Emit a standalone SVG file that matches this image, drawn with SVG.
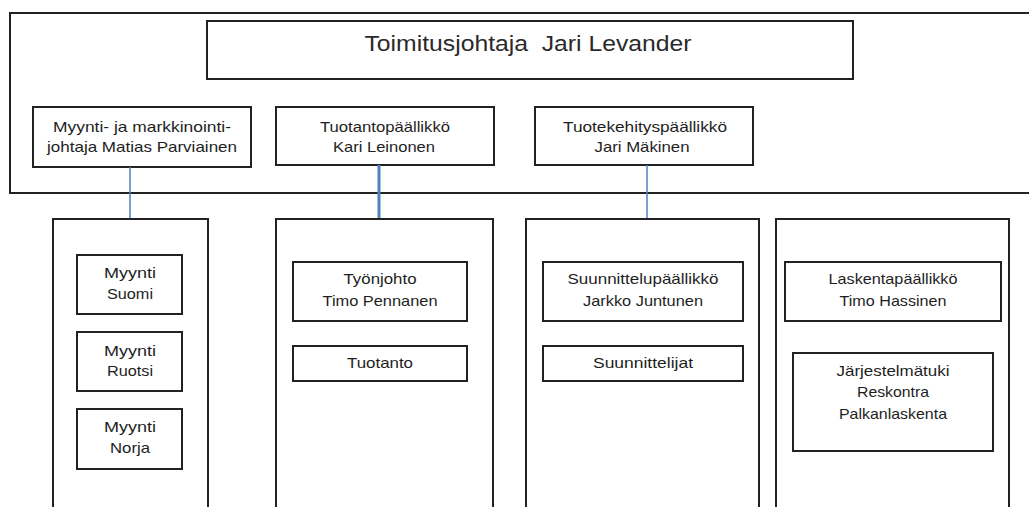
<svg xmlns="http://www.w3.org/2000/svg" width="1029" height="507" viewBox="0 0 1029 507">
<style>
.b{fill:#fff;stroke:#222;stroke-width:2}
.o{fill:none;stroke:#222;stroke-width:2}
.t{font-family:"Liberation Sans",Arial,sans-serif;font-size:15px;fill:#1e1e1e;text-anchor:middle}
.h{font-size:22px;fill:#2a2a2a}
.c{stroke:#4f81bd;stroke-width:1.5;fill:none}
</style>
<rect width="1029" height="507" fill="#fff"/>
<path class="o" d="M1035,13 H10 V193 H1035"/>
<g id="ceo">
<rect class="b" x="207" y="21" width="646" height="58"/>
<text class="t h" x="528" y="51" textLength="327" lengthAdjust="spacingAndGlyphs">Toimitusjohtaja&#160; Jari Levander</text>
</g>
<g id="myynti-johtaja">
<rect class="b" x="33" y="107" width="218" height="60"/>
<text class="t" x="142" y="132" textLength="178" lengthAdjust="spacingAndGlyphs">Myynti- ja markkinointi-</text>
<text class="t" x="142" y="152" textLength="190" lengthAdjust="spacingAndGlyphs">johtaja Matias Parviainen</text>
</g>
<g id="tuotantopaallikko">
<rect class="b" x="276" y="107" width="218" height="58"/>
<text class="t" x="385" y="132" textLength="130" lengthAdjust="spacingAndGlyphs">Tuotantopäällikkö</text>
<text class="t" x="384" y="152" textLength="102" lengthAdjust="spacingAndGlyphs">Kari Leinonen</text>
</g>
<g id="tuotekehityspaallikko">
<rect class="b" x="535" y="107" width="218" height="58"/>
<text class="t" x="645" y="132" textLength="164" lengthAdjust="spacingAndGlyphs">Tuotekehityspäällikkö</text>
<text class="t" x="642" y="152" textLength="95" lengthAdjust="spacingAndGlyphs">Jari Mäkinen</text>
</g>
<g id="connectors">
<line class="c" x1="130" y1="167" x2="130" y2="219"/>
<line class="c" x1="379" y1="165" x2="379" y2="219" style="stroke-width:3"/>
<line class="c" x1="647" y1="165" x2="647" y2="219"/>
</g>
<g id="col-myynti">
<path class="o" d="M53,512 V219 H208 V512"/>
</g>
<g id="col-tuotanto">
<path class="o" d="M276,512 V219 H493 V512"/>
</g>
<g id="col-tuotekehitys">
<path class="o" d="M526,512 V219 H759 V512"/>
</g>
<g id="col-laskenta">
<path class="o" d="M776,512 V219 H1009 V512"/>
</g>
<g id="myynti-suomi">
<rect class="b" x="77" y="255" width="105" height="59"/>
<text class="t" x="130" y="278" textLength="52" lengthAdjust="spacingAndGlyphs">Myynti</text>
<text class="t" x="130" y="299" textLength="46" lengthAdjust="spacingAndGlyphs">Suomi</text>
</g>
<g id="myynti-ruotsi">
<rect class="b" x="77" y="332" width="105" height="59"/>
<text class="t" x="130" y="356" textLength="52" lengthAdjust="spacingAndGlyphs">Myynti</text>
<text class="t" x="130" y="376" textLength="46" lengthAdjust="spacingAndGlyphs">Ruotsi</text>
</g>
<g id="myynti-norja">
<rect class="b" x="77" y="409" width="105" height="60"/>
<text class="t" x="130" y="432" textLength="52" lengthAdjust="spacingAndGlyphs">Myynti</text>
<text class="t" x="130" y="453" textLength="40" lengthAdjust="spacingAndGlyphs">Norja</text>
</g>
<g id="tyonjohto">
<rect class="b" x="293" y="262" width="174" height="59"/>
<text class="t" x="380" y="284" textLength="73" lengthAdjust="spacingAndGlyphs">Työnjohto</text>
<text class="t" x="380" y="306" textLength="115" lengthAdjust="spacingAndGlyphs">Timo Pennanen</text>
</g>
<g id="tuotanto">
<rect class="b" x="293" y="346" width="174" height="35"/>
<text class="t" x="380" y="368" textLength="66" lengthAdjust="spacingAndGlyphs">Tuotanto</text>
</g>
<g id="suunnittelupaallikko">
<rect class="b" x="543" y="262" width="200" height="59"/>
<text class="t" x="643" y="284" textLength="151" lengthAdjust="spacingAndGlyphs">Suunnittelupäällikkö</text>
<text class="t" x="643" y="306" textLength="120" lengthAdjust="spacingAndGlyphs">Jarkko Juntunen</text>
</g>
<g id="suunnittelijat">
<rect class="b" x="543" y="346" width="200" height="35"/>
<text class="t" x="643" y="368" textLength="100" lengthAdjust="spacingAndGlyphs">Suunnittelijat</text>
</g>
<g id="laskentapaallikko">
<rect class="b" x="785" y="262" width="216" height="59"/>
<text class="t" x="893" y="284" textLength="129" lengthAdjust="spacingAndGlyphs">Laskentapäällikkö</text>
<text class="t" x="893" y="306" textLength="107" lengthAdjust="spacingAndGlyphs">Timo Hassinen</text>
</g>
<g id="jarjestelmatuki">
<rect class="b" x="793" y="353" width="200" height="98"/>
<text class="t" x="893" y="376" textLength="113" lengthAdjust="spacingAndGlyphs">Järjestelmätuki</text>
<text class="t" x="893" y="397" textLength="72" lengthAdjust="spacingAndGlyphs">Reskontra</text>
<text class="t" x="893" y="419" textLength="108" lengthAdjust="spacingAndGlyphs">Palkanlaskenta</text>
</g>
</svg>
